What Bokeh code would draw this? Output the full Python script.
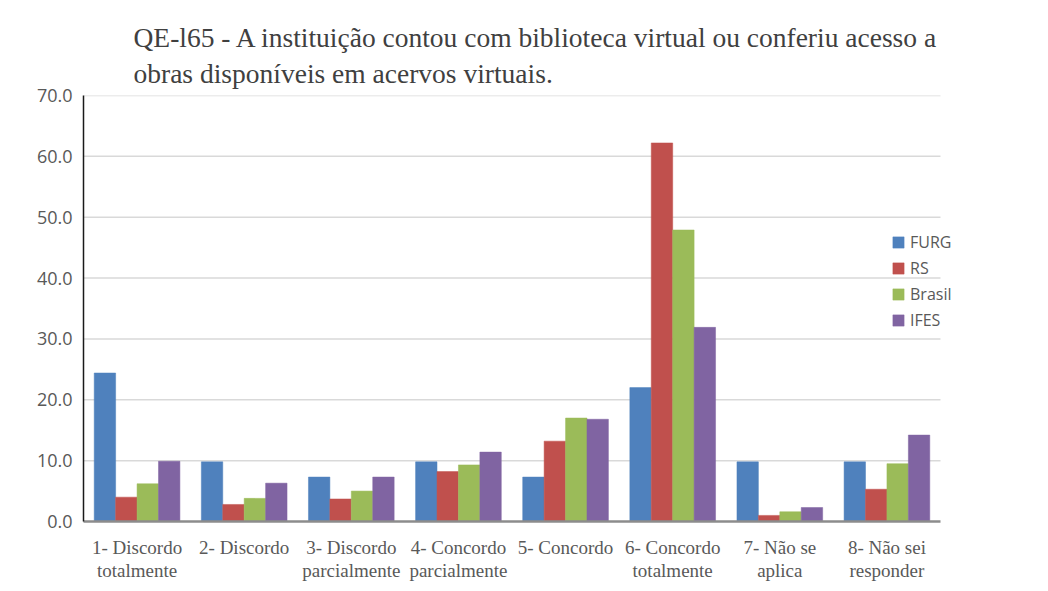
from bokeh.plotting import figure
from bokeh.models import ColumnDataSource, Range1d, FixedTicker, Title, NumeralTickFormatter
from bokeh.transform import dodge
from bokeh.embed import file_html
from bokeh.resources import INLINE

categories = ["1- Discordo\ntotalmente", "2- Discordo", "3- Discordo\nparcialmente",
              "4- Concordo\nparcialmente", "5- Concordo", "6- Concordo\ntotalmente",
              "7- Não se\naplica", "8- Não sei\nresponder"]
series_names = ["FURG", "RS", "Brasil", "IFES"]
furg = [24.4, 9.8, 7.3, 9.8, 7.3, 22.0, 9.8, 9.8]
rs = [4.0, 2.8, 3.7, 8.2, 13.2, 62.2, 1.0, 5.3]
brasil = [6.2, 3.8, 5.0, 9.3, 17.0, 47.9, 1.6, 9.5]
ifes = [9.9, 6.3, 7.3, 11.4, 16.8, 31.9, 2.3, 14.2]
colors = ["#4F81BD", "#C0504D", "#9BBB59", "#8064A2"]
y_ticks = [0, 10, 20, 30, 40, 50, 60, 70]
title_lines = ["QE-l65 - A instituição contou com biblioteca virtual ou conferiu acesso a",
               "obras disponíveis em acervos virtuais."]

n = len(categories)
positions = list(range(1, n + 1))
src = ColumnDataSource(dict(x=positions, FURG=furg, RS=rs, Brasil=brasil, IFES=ifes))

W, H = 1040, 585
left, top, right, bottom = 83, 95, 975, 521
x_end = 0.5 + n * (right - left) / 857.0

p = figure(width=W, height=H, x_range=Range1d(0.5, x_end), y_range=Range1d(0, 70),
           output_backend="svg", toolbar_location=None,
           min_border_left=left, min_border_right=W - right,
           min_border_top=top, min_border_bottom=H - bottom)
p.outline_line_color = None

# horizontal gridlines limited to the category area
p.segment(x0=0.5, x1=n + 0.5, y0=y_ticks[1:], y1=y_ticks[1:],
          line_color="#d9d9d9", line_width=1.5, level="underlay")

offsets = [-0.3, -0.1, 0.1, 0.3]
for name, col, off in zip(series_names, colors, offsets):
    p.vbar(x=dodge("x", off), top=name, width=0.2, source=src,
           fill_color=col, line_color=col, line_width=0.5, legend_label=name)

# Titles (later added sit farther from the frame)
t2 = Title(text=title_lines[1], align="left", offset=50, text_font="Liberation Serif",
           text_font_size="27.5px", text_font_style="normal", text_color="#404040", standoff=13)
t1 = Title(text=title_lines[0], align="left", offset=50, text_font="Liberation Serif",
           text_font_size="27.5px", text_font_style="normal", text_color="#404040", standoff=-7)
p.add_layout(t2, "above")
p.add_layout(t1, "above")

# Axes
p.yaxis.ticker = FixedTicker(ticks=y_ticks)
p.yaxis.formatter = NumeralTickFormatter(format="0.0")
p.yaxis.major_label_text_font = "Open Sans"
p.yaxis.major_label_text_font_size = "18px"
p.yaxis.major_label_text_color = "#595959"
p.yaxis.major_tick_line_color = None
p.yaxis.major_tick_out = 0
p.yaxis.minor_tick_line_color = None
p.yaxis.axis_line_color = "#1a1a1a"
p.yaxis.axis_line_width = 1.5
p.yaxis.major_label_standoff = 11

p.xaxis.ticker = FixedTicker(ticks=positions)
p.xaxis.major_label_overrides = {pos: cat for pos, cat in zip(positions, categories)}
p.xaxis.bounds = (0.5, n + 0.5)
p.xaxis.major_label_text_font = "Liberation Serif"
p.xaxis.major_label_text_font_size = "19px"
p.xaxis.major_label_text_line_height = 1.1
p.xaxis.major_label_text_color = "#595959"
p.xaxis.major_tick_line_color = None
p.xaxis.major_tick_out = 0
p.xaxis.minor_tick_line_color = None
p.xaxis.axis_line_color = "#8c8c8c"
p.xaxis.axis_line_width = 2.5
p.xaxis.major_label_standoff = 15

p.xgrid.grid_line_color = None
p.ygrid.grid_line_color = None

# Legend
lg = p.legend[0]
lg.location = (808, 190)
lg.background_fill_alpha = 0
lg.border_line_color = None
lg.padding = 0
lg.margin = 0
lg.glyph_width = 14
lg.glyph_height = 14
lg.label_height = 20
lg.spacing = 4
lg.label_standoff = 5
lg.label_text_font = "Open Sans"
lg.label_text_font_size = "16px"
lg.label_text_color = "#595959"

open("out.html", "w").write(file_html(p, INLINE))
